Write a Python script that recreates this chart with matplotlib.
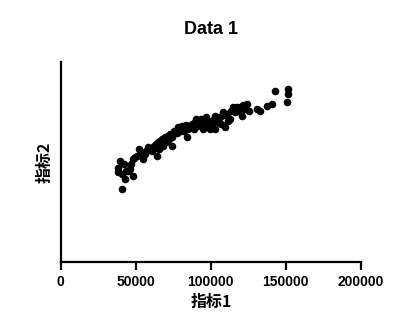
import matplotlib
matplotlib.use('Agg')
import matplotlib.pyplot as plt

# values (y axis has no scale, arbitrary units)
x_vals = [40470, 39330, 38000, 40470, 42670, 48000, 46000, 48000, 50670, 54670,
          58000, 60670, 64000, 64670, 68000, 71330, 74000, 76000, 79330, 84000,
          86000, 89330, 92670, 94670, 97330, 99330, 102670, 104670, 108000, 109330,
          112670, 114670, 118000, 120670, 124000, 130670, 132670, 137330, 140670, 142670,
          151330, 151330, 150670, 38000, 42000, 44670, 49330, 52670, 56670, 59330,
          62000, 63330, 66000, 67330, 69330, 70000, 72670, 74000, 75330, 77330,
          78000, 80670, 82000, 83330, 84670, 87330, 88670, 90670, 92000, 93330,
          96000, 98000, 100670, 101330, 103330, 106000, 106670, 108670, 110670, 111330,
          113330, 116000, 116670, 119330, 122000, 122670, 125330, 121330, 52000, 56000,
          61330, 65330, 72000, 80000, 90000, 96670, 117330, 102670, 46670, 43330]
y_vals = [73, 101, 94, 88, 83, 86, 93, 103, 106, 103,
          115, 111, 106, 120, 116, 126, 116, 130, 133, 125,
          135, 140, 141, 133, 136, 133, 146, 140, 150, 135,
          143, 155, 151, 146, 158, 153, 151, 156, 158, 171,
          173, 168, 160, 90, 98, 91, 105, 108, 111, 113,
          116, 118, 121, 123, 125, 120, 128, 125, 131, 129,
          135, 136, 131, 137, 133, 138, 133, 136, 138, 143,
          138, 141, 138, 142, 143, 145, 138, 147, 148, 141,
          151, 150, 153, 155, 153, 156, 151, 157, 113, 108,
          113, 113, 123, 131, 143, 145, 155, 133, 98, 91]
x_ticks = [0, 50000, 100000, 150000, 200000]

plt.rcParams['font.family'] = ['Liberation Sans', 'Noto Sans CJK SC']
plt.rcParams['font.weight'] = 'bold'

fig = plt.figure(figsize=(4.11, 3.26), dpi=100)
ax = fig.add_axes([0.148, 0.196, 0.730, 0.614])

ax.scatter(x_vals, y_vals, s=30, color='black', linewidths=0)

ax.set_xlim(0, 200000)
ax.set_ylim(0, 200)
ax.set_xticks(x_ticks)
ax.set_xticklabels([str(t) for t in x_ticks], fontsize=10, fontweight='bold')
ax.set_yticks([])

for side in ['top', 'right']:
    ax.spines[side].set_visible(False)
for side in ['left', 'bottom']:
    ax.spines[side].set_linewidth(1.6)
ax.tick_params(axis='x', width=1.6, length=6, pad=3)

ax.set_title('Data 1', fontsize=13, fontweight='bold', pad=20)
ax.set_xlabel('指标1', fontsize=11.5, fontweight='bold',
              family=['Noto Sans CJK SC', 'Liberation Sans'], labelpad=4)
ax.set_ylabel('指标2', fontsize=11.5, fontweight='bold',
              family=['Noto Sans CJK SC', 'Liberation Sans'], labelpad=6)

fig.savefig('out.png', dpi=100)
